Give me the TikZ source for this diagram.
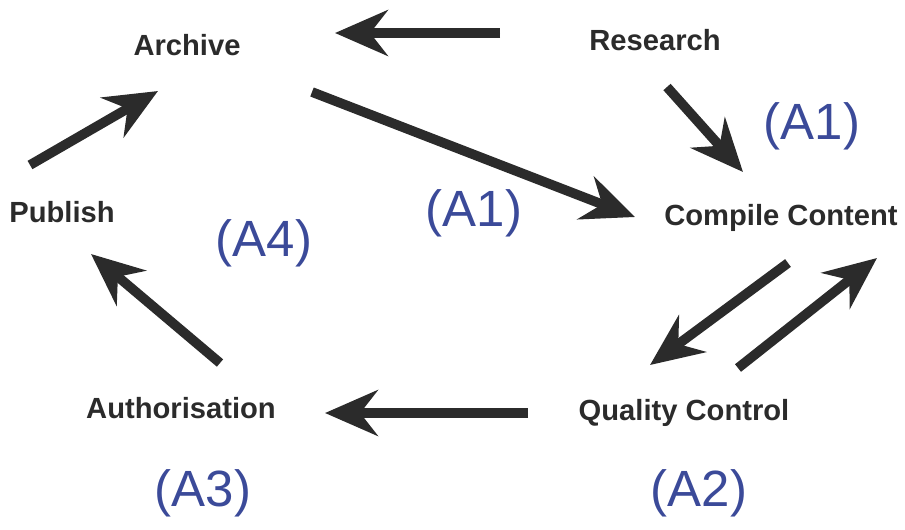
\documentclass[tikz,border=0pt]{standalone}
\usepackage{fontspec}
\setmainfont{Liberation Sans}
\usepackage{tikz}
\usetikzlibrary{arrows.meta,positioning}
\definecolor{inkgray}{HTML}{2B2B2B}
\definecolor{codeblue}{HTML}{3B4A99}

\begin{document}
\begin{tikzpicture}[x=0.02cm, y=-0.02cm,
	stage/.style={anchor=base, inner sep=0pt, text=inkgray,
		font=\fontsize{16.6}{18}\selectfont\bfseries},
	tag/.style={anchor=base, inner sep=0pt, text=codeblue,
		font=\fontsize{29}{32}\selectfont},
	arr/.style={-{Stealth[length=30pt, width=26pt, inset=10pt]},
		line width=5.5pt, draw=inkgray, fill=inkgray}
]
	\useasboundingbox (0,0) rectangle (905,529);

	% Stages of the cycle
	\node[stage] (archive)  at (187, 55)  {Archive};
	\node[stage] (research) at (655, 50)  {Research};
	\node[stage] (compile)  at (781, 225) {Compile Content};
	\node[stage] (publish)  at (62, 222)  {Publish};
	\node[stage] (author)   at (181, 418) {Authorisation};
	\node[stage] (quality)  at (684, 420) {Quality Control};

	% Activity tags
	\node[tag] (tagA1a) at (812, 139) {(A1)};
	\node[tag] (tagA1b) at (474, 226) {(A1)};
	\node[tag] (tagA4)  at (264, 256) {(A4)};
	\node[tag] (tagA3)  at (203, 506) {(A3)};
	\node[tag] (tagA2)  at (699, 506) {(A2)};

	% Flows
	\draw[arr] ([shift={(-155,-17)}]research.base) -- ([shift={(148,-22)}]archive.base);
	\draw[arr] ([shift={(12,37)}]research.base) -- ([shift={(-38,-53)}]compile.base);
	\draw[arr] ([shift={(125,37)}]archive.base) -- ([shift={(-146,-8)}]compile.base);
	\draw[arr] ([shift={(7,38)}]compile.base) -- ([shift={(-34,-55)}]quality.base);
	\draw[arr] ([shift={(54,-52)}]quality.base) -- ([shift={(96,33)}]compile.base);
	\draw[arr] ([shift={(-156,-7)}]quality.base) -- ([shift={(144,-5)}]author.base);
	\draw[arr] ([shift={(39,-55)}]author.base) -- ([shift={(29,32)}]publish.base);
	\draw[arr] ([shift={(-32,-57)}]publish.base) -- ([shift={(-29,36)}]archive.base);
\end{tikzpicture}
\end{document}
